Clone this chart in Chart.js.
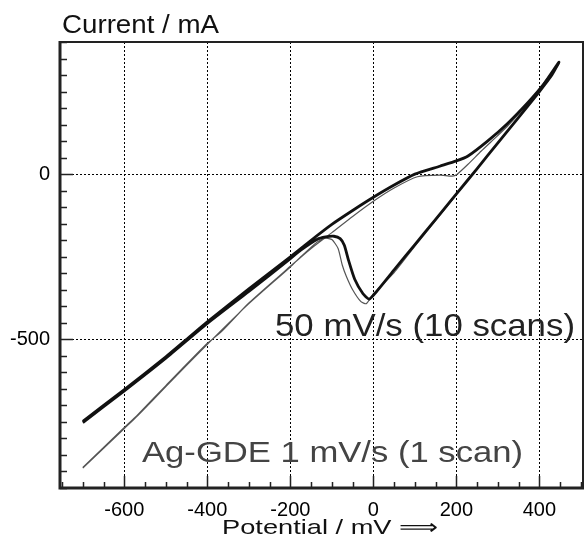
<!DOCTYPE html>
<html>
<head>
<meta charset="utf-8">
<script src="https://cdn.jsdelivr.net/npm/chart.js@4.4.1/dist/chart.umd.min.js"></script>
<style>
body{margin:0;background:#fff;}
</style>
</head>
<body>
<canvas id="myChart" width="584" height="540"></canvas>
<script>
'use strict';
// values (potential in mV, current in mA)
let fastPotential = [-700,-600,-500,-450,-400,-300,-200,-150,-100,-50,0,50,100,160,200,228,275,322,373,410,447,
  430,400,350,300,250,200,150,100,50,10,-10,-25,-45,-60,-70,-80,-95,-115,-135,-175,-200,-300,-400,-500,-600,-700];
let fastCurrent = [-748,-652,-553,-500,-447,-347,-250,-200,-152,-110,-70,-33,0,24,40,55,100,152,218,272,339,
  300,250,172,95,17,-60,-137,-213,-290,-352,-378,-362,-318,-260,-215,-195,-188,-190,-197,-230,-256,-355,-452,-557,-656,-752];

let slowPotential = [-700,-600,-567,-500,-400,-368,-300,-200,-150,-100,-50,0,50,106,161,190,202,228,260,298,325,373,447,
  400,350,300,250,200,150,100,50,0,-17,-30,-50,-65,-75,-85,-100,-115,-135,-175,-200,-300,-400,-500,-567,-600,-700];
let slowCurrent = [-888,-767,-727,-640,-512,-479,-390,-279,-225,-177,-128,-82,-42,-8,-3,-6,0,30,70,115,148,215,335,
  252,172,95,17,-62,-140,-218,-298,-362,-392,-386,-350,-310,-275,-225,-198,-194,-205,-250,-281,-392,-515,-643,-730,-770,-890];

let xTicks = [-600,-400,-200,0,200,400];
let yTicks = [0,-500];
let minorStep = 50;

let fontName = "'Liberation Sans', Arial, Helvetica, sans-serif";

function toPoints(xs, ys) {
  let pts = [];
  for (let i = 0; i < xs.length; i++) {
    pts.push({x: xs[i], y: ys[i]});
  }
  return pts;
}

// text in the picture is a bit wider than Arial, so stretch it to the measured width
function drawText(ctx, text, left, baseline, size, width, color) {
  ctx.save();
  ctx.font = size + 'px ' + fontName;
  ctx.fillStyle = color;
  ctx.textBaseline = 'alphabetic';
  let w = ctx.measureText(text).width;
  ctx.translate(left, baseline);
  ctx.scale(width / w, 1);
  ctx.fillText(text, 0, 0);
  ctx.restore();
}

let framePlugin = {
  id: 'frame',
  afterDraw(chart) {
    let ctx = chart.ctx;
    let a = chart.chartArea;
    let xs = chart.scales.x;
    let ys = chart.scales.y;
    ctx.save();
    ctx.strokeStyle = '#222';
    // inward minor + major ticks
    ctx.lineWidth = 1.5;
    ctx.beginPath();
    for (let v = Math.ceil(xs.min / minorStep) * minorStep; v <= xs.max; v += minorStep) {
      let px = Math.round(xs.getPixelForValue(v)) + 0.5;
      let len = xTicks.includes(v) ? 12 : 6;
      ctx.moveTo(px, a.bottom);
      ctx.lineTo(px, a.bottom - len);
    }
    for (let v = Math.ceil(ys.min / minorStep) * minorStep; v <= ys.max; v += minorStep) {
      let py = Math.round(ys.getPixelForValue(v)) + 0.5;
      let len = yTicks.includes(v) ? 13 : 7;
      ctx.moveTo(a.left, py);
      ctx.lineTo(a.left + len, py);
    }
    ctx.stroke();
    // box
    ctx.lineWidth = 2;
    ctx.beginPath();
    ctx.moveTo(a.left, a.top);
    ctx.lineTo(a.right, a.top);
    ctx.lineTo(a.right, a.bottom);
    ctx.stroke();
    ctx.lineWidth = 3;
    ctx.beginPath();
    ctx.moveTo(a.left, a.top - 1);
    ctx.lineTo(a.left, a.bottom);
    ctx.lineTo(a.right + 1, a.bottom);
    ctx.stroke();
    ctx.restore();

    drawText(ctx, 'Current / mA', 62, 33, 25, 157, '#111');
    drawText(ctx, 'Potential / mV \u27F9', 222, 534, 21, 216, '#111');
    drawText(ctx, '50 mV/s (10 scans)', 275, 336, 32, 300, '#222');
    drawText(ctx, 'Ag-GDE 1 mV/s (1 scan)', 142, 462, 30, 381, '#444');
  }
};

let ctx = document.getElementById('myChart').getContext('2d');
let chart = new Chart(ctx, {
  type: 'scatter',
  data: {
    datasets: [
      {
        label: '50 mV/s (10 scans)',
        data: toPoints(fastPotential, fastCurrent),
        showLine: true,
        borderColor: '#111',
        borderWidth: 2.8,
        pointRadius: 0,
        tension: 0.2
      },
      {
        label: 'Ag-GDE 1 mV/s (1 scan)',
        data: toPoints(slowPotential, slowCurrent),
        showLine: true,
        borderColor: '#555',
        borderWidth: 1.2,
        pointRadius: 0,
        tension: 0.2
      }
    ]
  },
  options: {
    responsive: false,
    animation: false,
    layout: {padding: {top: 42, right: 1, left: 0, bottom: 0}},
    plugins: {legend: {display: false}, tooltip: {enabled: false}},
    scales: {
      x: {
        type: 'linear',
        min: -755,
        max: 505,
        afterBuildTicks: function (s) { s.ticks = xTicks.map(v => ({value: v})); },
        afterFit: function (s) { s.height = 52; },
        grid: {color: '#000', lineWidth: 1, drawTicks: false},
        border: {display: false, dash: [2, 2]},
        ticks: {color: '#000', font: {family: fontName, size: 20}, padding: 10, maxRotation: 0}
      },
      y: {
        type: 'linear',
        min: -950,
        max: 400,
        afterBuildTicks: function (s) { s.ticks = yTicks.map(v => ({value: v})); },
        afterFit: function (s) { s.width = 60; },
        grid: {color: '#000', lineWidth: 1, drawTicks: false},
        border: {display: false, dash: [2, 2]},
        ticks: {color: '#000', font: {family: fontName, size: 20}, padding: 10}
      }
    }
  },
  plugins: [framePlugin]
});
</script>
</body>
</html>
